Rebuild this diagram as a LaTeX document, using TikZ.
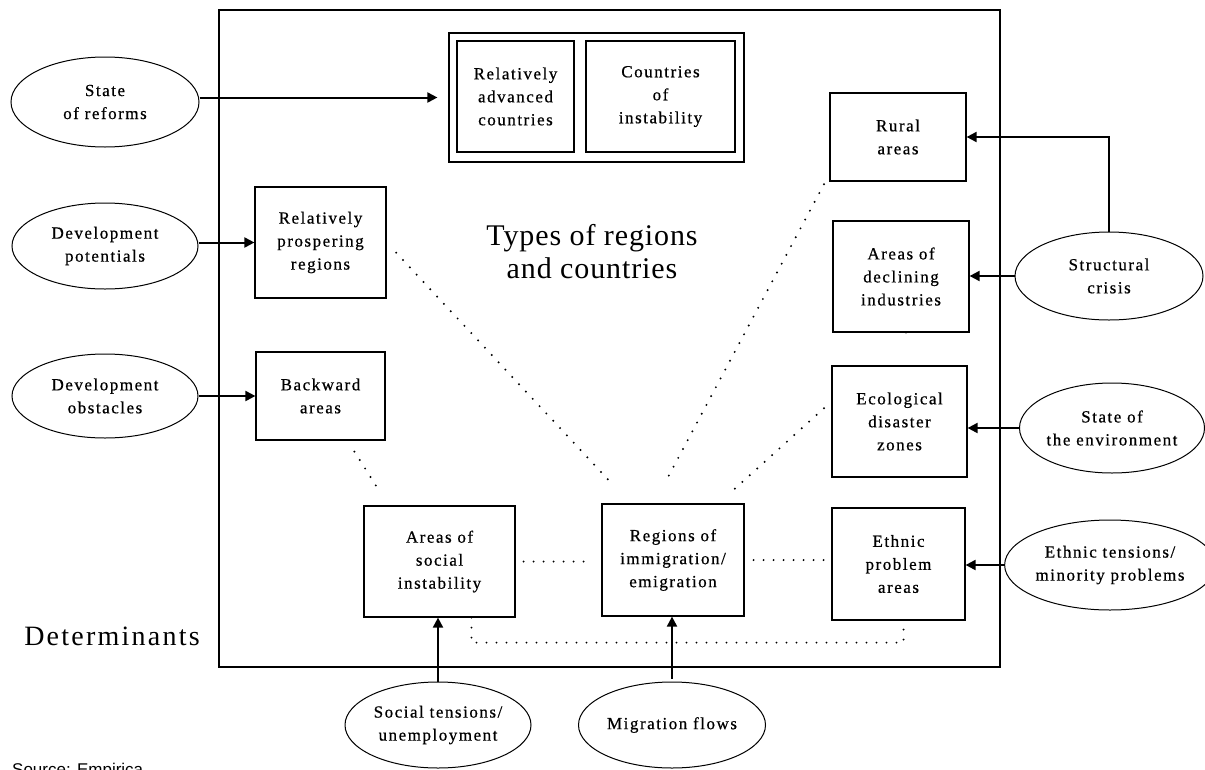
\documentclass[tikz,border=0pt]{standalone}
\usepackage{fontspec}
\setmainfont{Liberation Serif}
\newfontfamily\boxfont[LetterSpace=9,FakeBold=0.6]{Liberation Serif}
\newfontfamily\bigfont[LetterSpace=3]{Liberation Serif}
\newfontfamily\detfont[LetterSpace=8]{Liberation Serif}
\newfontfamily\srcfont{Liberation Sans}
\usetikzlibrary{shapes.geometric,arrows.meta,calc}
\tikzset{
  typebox/.style={draw, line width=1.2pt, inner sep=0pt, align=center,
    font=\boxfont\fontsize{17}{23}\selectfont},
  factor/.style={draw, ellipse, line width=1pt, inner sep=0pt, align=center,
    font=\boxfont\fontsize{17}{23}\selectfont},
  arr/.style={line width=2pt, -{Triangle[length=10pt,width=10pt]}},
  dotline/.style={line width=2.2pt, line cap=round, dash pattern=on 0pt off 10pt},
}
\begin{document}
\begin{tikzpicture}[x=1pt,y=-1pt]
\useasboundingbox (0,0) rectangle (1205,769);
% main frame
\draw[line width=1.2pt] (219,10) rectangle (1000,667);

% top double box
\node[draw, line width=1.2pt, minimum width=295pt, minimum height=129pt] (top) at (596.5,97.5) {};
\node[typebox, minimum width=117pt, minimum height=111pt] (rel) at (515.5,96.5) {Relatively\\advanced\\countries};
\node[typebox, minimum width=149pt, minimum height=111pt] (coi) at (660.5,96.5) {Countries\\of\\instability};

% region boxes
\node[typebox, minimum width=136pt, minimum height=88pt] (rural) at (898,137) {Rural\\areas};
\node[typebox, minimum width=136pt, minimum height=111pt] (decl) at (901,276.5) {Areas of\\declining\\industries};
\node[typebox, minimum width=135pt, minimum height=111pt] (eco) at (899.5,421.5) {Ecological\\disaster\\zones};
\node[typebox, minimum width=133pt, minimum height=112pt] (eth) at (898.5,564) {Ethnic\\problem\\areas};
\node[typebox, minimum width=131pt, minimum height=111pt] (prosp) at (320.5,242.5) {Relatively\\prospering\\regions};
\node[typebox, minimum width=129pt, minimum height=88pt] (back) at (320.5,396) {Backward\\areas};
\node[typebox, minimum width=151pt, minimum height=111pt] (soc) at (439.5,561.5) {Areas of\\social\\instability};
\node[typebox, minimum width=142pt, minimum height=112pt] (mig) at (673,560) {Regions of\\immigration/\\emigration};

% determinants (ellipses)
\node[factor, minimum width=188pt, minimum height=90pt] (reform) at (105,102) {State\\of reforms};
\node[factor, minimum width=186pt, minimum height=86pt] (devpot) at (105,246) {Development\\potentials};
\node[factor, minimum width=186pt, minimum height=84pt] (devobs) at (105,396) {Development\\obstacles};
\node[factor, minimum width=188pt, minimum height=88pt] (struct) at (1109,276) {Structural\\crisis};
\node[factor, minimum width=184pt, minimum height=90pt] (env) at (1112,428) {State of\\the environment};
\node[factor, minimum width=188pt, minimum height=90pt] (ethn) at (1110,565) {Ethnic tensions/\\minority problems};
\node[factor, minimum width=186pt, minimum height=86pt] (soct) at (438,725) {Social tensions/\\unemployment};
\node[factor, minimum width=187pt, minimum height=86pt] (migf) at (672,725) {Migration flows};

% titles
\node[align=center, font=\bigfont\fontsize{30}{33}\selectfont] (title) at (592,252) {Types of regions\\and countries};
\node[font=\detfont\fontsize{28}{33}\selectfont] (det) at (112,636) {Determinants};
\node[anchor=north west, inner sep=0pt, font=\srcfont\fontsize{17}{20}\selectfont] (src) at (12,763) {Source: Empirica};

% arrows
\draw[arr] (reform.east |- top.west) -- ($(top.west)+(-11,0)$);
\draw[arr] (devpot.east |- prosp.west) -- (prosp.west);
\draw[arr] (devobs.east |- back.west) -- (back.west);
\draw[arr] (struct.north) -- (struct.north |- rural.east) -- (rural.east);
\draw[arr] (struct.west) -- (decl.east |- struct.west);
\draw[arr] (env.west) -- (eco.east |- env.west);
\draw[arr] (ethn.west) -- (eth.east |- ethn.west);
\draw[arr] (soct.north) -- (soct.north |- soc.south);
\draw[arr] ($(migf.north)+(0,-3)$) -- (migf.north |- mig.south);

% dotted links
\draw[dotline, shorten <=14pt, shorten >=24pt] (prosp.east) -- ($(mig.north west)+(29,0)$);
\draw[dotline, shorten <=3pt, shorten >=22pt] ($(rural.south west)+(-4,0)$) -- ($(mig.north)+(-19,0)$);
\draw[dotline, shorten <=10pt, shorten >=22pt] ($(eco.west)+(0,-20)$) -- ($(mig.north east)+(-26,0)$);
\draw[dotline, shorten <=13pt, shorten >=14pt] ($(back.south)+(27,0)$) -- ($(soc.north west)+(25,0)$);
\draw[dotline, shorten <=8pt, shorten >=14pt] (soc.east) -- (mig.west |- soc.east);
\draw[dotline, shorten <=9pt, shorten >=7pt] (mig.east) -- (eth.west |- mig.east);
\draw[dotline] ($(soc.south)+(32,0)$) -- ++(0,25) -| ($(eth.south)+(5,0)$);
\draw[dotline] ($(decl.south)+(5,0)$) -- ($(decl.south)+(5,0)$ |- eco.north);
\end{tikzpicture}
\end{document}
